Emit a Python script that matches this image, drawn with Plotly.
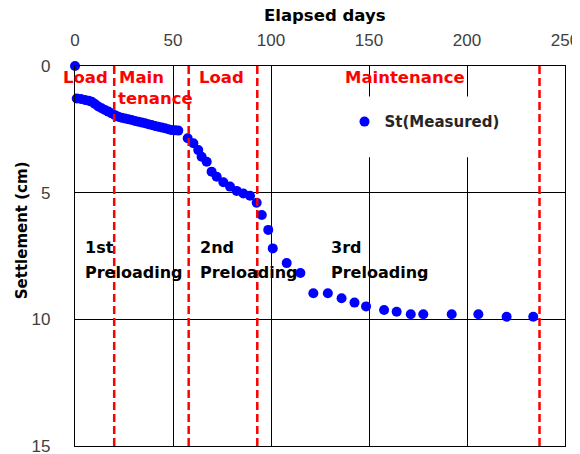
import plotly.graph_objects as go

# ---- data ----
days = [0, 0.9, 3, 5.1, 7, 8.5, 10.2, 11.9, 13.6, 15.3, 17, 18.7, 20.4, 22.1, 23.8, 25.5,
        27.2, 28.9, 30.6, 32.3, 34, 35.7, 37.4, 39.1, 40.8, 42.5, 44.2, 45.9, 47.6, 49.3,
        51, 52.7,
        57.5, 60.4, 62.9, 64.6, 67.2, 69.7, 72.3, 75.7, 79.1, 82.5, 85.9, 89.3,
        92.7, 95.3, 98.6, 100.9, 108, 115, 121.6, 129, 136, 142.6, 148.5,
        157.7, 164.1, 171.3, 177.7, 192.2, 205.8, 220.2, 233.8]
settlement = [0, 1.28, 1.3, 1.34, 1.37, 1.41, 1.5, 1.6, 1.67, 1.74, 1.8, 1.87, 1.94, 2.0, 2.04, 2.07,
              2.1, 2.13, 2.17, 2.2, 2.23, 2.26, 2.3, 2.33, 2.37, 2.4, 2.43, 2.46, 2.5, 2.53,
              2.54, 2.55,
              2.85, 3.05, 3.32, 3.58, 3.78, 4.17, 4.37, 4.59, 4.76, 4.93, 5.03, 5.12,
              5.4, 5.88, 6.47, 7.2, 7.78, 8.17, 8.97, 8.97, 9.17, 9.34, 9.49,
              9.63, 9.7, 9.8, 9.8, 9.8, 9.8, 9.9, 9.9]
series_name = "St(Measured)"

stage_lines = [20, 58, 93, 237]          # red dashed stage boundaries (days)
x_ticks = [0, 50, 100, 150, 200, 250]
y_ticks = [0, 5, 10, 15]

stage_labels = ["Load", "Main", "tenance", "Load", "Maintenance"]
stage_label_x = [5.6, 21.3, 21.0, 62.2, 136.7]
stage_label_y = [0.47, 0.47, 1.3, 0.47, 0.47]
stage_label_anchor = ["center", "left", "left", "left", "left"]

preload_labels = ["1st", "Preloading", "2nd", "Preloading", "3rd", "Preloading"]
preload_x = [4.1, 4.1, 62.8, 62.8, 129.6, 129.6]
preload_y = [7.15, 8.17, 7.15, 8.17, 7.15, 8.17]

BOLD = "DejaVu Sans"
REG = "Liberation Sans, Arial, sans-serif"

fig = go.Figure()
fig.add_trace(go.Scatter(
    x=days, y=settlement, mode="markers", name=series_name,
    marker=dict(color="#0000FF", size=10, line=dict(width=0)),
    cliponaxis=False,
))

shapes = []
# white legend box hiding gridlines
shapes.append(dict(type="rect", xref="x", yref="y", x0=140, x1=215, y0=1.2, y1=3.6,
                   fillcolor="white", line=dict(width=0), layer="between"))
for d in stage_lines:
    shapes.append(dict(type="line", xref="x", yref="paper", x0=d, x1=d, y0=0, y1=1,
                       line=dict(color="#FF0000", width=2.5, dash="8px,4px"), layer="above"))

annotations = []
for t, x, y, a in zip(stage_labels, stage_label_x, stage_label_y, stage_label_anchor):
    annotations.append(dict(text=t, x=x, y=y, xref="x", yref="y", showarrow=False,
                            xanchor=a, yanchor="middle",
                            font=dict(family=BOLD, size=16.5, color="#FF0000", weight="bold")))
for t, x, y in zip(preload_labels, preload_x, preload_y):
    annotations.append(dict(text=t, x=x, y=y, xref="x", yref="y", showarrow=False,
                            xanchor="left", yanchor="middle",
                            font=dict(family=BOLD, size=16, color="#000000", weight="bold")))
annotations.append(dict(text="Elapsed days", x=0.511, y=1.134, xref="paper", yref="paper",
                        showarrow=False, xanchor="center", yanchor="middle",
                        font=dict(family=BOLD, size=16.5, color="#000000", weight="bold")))
annotations.append(dict(text="Settlement (cm)", x=-0.108, y=0.568, xref="paper", yref="paper",
                        showarrow=False, xanchor="center", yanchor="middle", textangle=-90,
                        font=dict(family=BOLD, size=15, color="#000000", weight="bold")))

# the page places the figure 8px from the top-left corner
fig.update_layout(
    width=572, height=446,
    margin=dict(l=67, r=15, t=58, b=8, autoexpand=False),
    paper_bgcolor="white", plot_bgcolor="white",
    shapes=shapes, annotations=annotations,
    showlegend=True,
    legend=dict(x=0.55, y=0.853, xanchor="left", yanchor="middle",
                bgcolor="rgba(0,0,0,0)",
                font=dict(family=BOLD, size=15, color="#262626", weight="bold")),
    xaxis=dict(side="top", range=[0, 250], tickvals=x_ticks, automargin=False,
               showgrid=True, gridcolor="#000000", gridwidth=1,
               showline=True, linecolor="#000000", linewidth=1.3, mirror=True,
               zeroline=False, ticks="", ticklabelstandoff=12, ticklabeloverflow="allow",
               tickfont=dict(family=REG, size=17, color="#404040")),
    yaxis=dict(range=[15, 0], tickvals=y_ticks, automargin=False,
               showgrid=True, gridcolor="#000000", gridwidth=1,
               showline=True, linecolor="#000000", linewidth=1.3, mirror=True,
               zeroline=False, ticks="", ticklabelstandoff=20, ticklabeloverflow="allow",
               tickfont=dict(family=REG, size=17, color="#404040")),
)

fig.write_html("out.html")
